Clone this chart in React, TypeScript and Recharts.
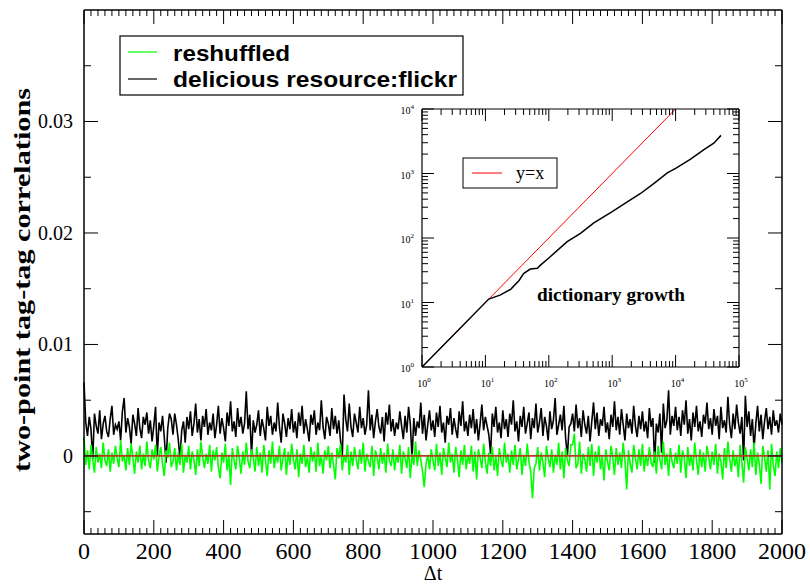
import React from 'react';
import { LineChart, Line, XAxis, YAxis, ReferenceLine } from 'recharts';

// main panel: two-point correlations, one sample every STEP in Δt, values in units of 1e-4
const STEP = 5;

const deliciousFlickr = [
  66, 30, 18, 35, 24, -3, 38, 27, 20, 41, 15, 29, 36, 22, 17, 33, 45, 19, 28, 24,
  31, 14, 40, 52, 21, 34, 26, 11, 37, 29, 18, 43, 25, 16, 35, 28, 39, 20, 32, 13,
  27, 44, 0, 30, 22, 36, 17, -6, 25, 38, 33, 19, 38, 28, 15, -2, 23, 31, 12, 35,
  24, 40, 18, 29, 47, 21, 33, 14, 36, 26, 42, 19, 30, 23, 38, 16, 28, 45, 20, 34,
  25, 13, 39, 27, 49, 22, 31, 17, 43, 26, 35, 20, 29, 58, 24, 37, 1, 32, 21, 28,
  41, 18, 33, 25, 14, 44, 27, 36, 19, 30, 22, 48, 26, 12, 38, 29, 17, 34, 24, 42,
  21, 31, 16, 39, 27, 45, 20, 33, 24, 13, 37, 28, 41, 19, 30, 23, 50, 26, 15, 35,
  29, 18, 43, 24, 36, 20, 32, 14, -1, 55, 33, 22, 47, 26, 17, 38, 30, 21, 44, 25,
  34, 19, 28, 59, 23, 37, 16, 31, 42, 26, 20, 35, 13, 39, 28, 46, 22, 33, 18, 30,
  24, 40, 27, 15, 36, 21, 44, 29, -2, 34, 18, 31, 25, 48, 20, 37, 14, 28, 41, 23,
  32, 17, 39, 26, 45, 21, 30, 12, 36, 28, 43, 19, 34, 24, 16, 40, 27, 49, 22, 31,
  18, 37, 25, 42, 20, 33, 14, 29, 46, 23, 35, 27, 19, 2, 38, 26, 44, 21, 30, 16,
  41, 24, 33, 17, 38, 28, 50, 22, 31, 13, 36, 26, 44, 20, 29, 39, 15, 34, 25, 47,
  21, 30, 43, 18, 35, 27, 14, 40, 24, 32, 52, 19, 28, 37, 23, 45, 16, 0, 26, 29,
  38, 22, 46, 25, 34, 17, 41, 28, 20, 36, 13, 31, 48, 24, 39, 18, 33, 27, 44, 21,
  30, 15, 37, 26, 49, 23, 35, 19, 42, 28, 14, 38, 25, 33, 20, 45, 27, 17, 36, 24,
  40, 22, 31, 16, 43, 26, 34, -6, 29, 21, 38, 3, 47, 25, 32, 59, 19, 36, 27, 44,
  23, 35, 18, 41, 28, 50, 20, 33, 14, 39, 26, 45, 22, 31, 17, 37, 29, 48, 24, 34,
  19, 42, 27, 36, 15, 44, 25, 32, 21, 53, 28, 16, 38, 24, 46, 30, 20, 35, -4, 54,
  26, 40, 18, 33, 7, 29, 45, 22, 37, 15, 31, 43, 24, 35, 19, 41, 27, 32, 21, 38,
  28,
];

const reshuffled = [
  17, -8, 5, -12, 10, -3, -15, 8, -6, 2, -11, 12, -4, -9, 6, -14, 3, -7, 9, -2,
  -10, 14, -5, 1, -13, 7, -8, 11, -1, -16, 4, -6, 9, -12, 2, -9, 13, -4, -11, 6,
  -3, 10, -14, 0, 8, -7, -18, 5, -2, 12, -10, -5, 7, -13, 3, -8, 11, -15, 1, -6,
  9, -12, 4, -3, -17, 6, -9, 13, -1, -11, 2, -7, 10, -14, 5, -4, 8, -10, -20, 3,
  -6, 11, -13, 1, -26, 7, -4, -12, 9, -2, -16, 4, -8, 12, -5, -11, 6, -1, -14, 8,
  -9, 3, -15, 10, -4, -18, 5, -7, 13, -11, 1, -6, 9, -13, -2, 7, -17, 4, -8, 11,
  -3, -12, 6, -19, 2, -7, 10, -10, -1, -15, 8, -5, 4, -14, 12, -9, 0, -16, 5, -4,
  9, -11, 3, -8, -21, 7, -2, 11, -13, 1, -6, 10, -17, 4, -9, 8, -3, -12, 6, -7,
  12, -14, 2, -5, -10, 9, -18, 5, -1, -12, 7, -7, 3, -15, 11, -4, -9, 6, -13, 1,
  -6, 10, -16, 4, -2, -11, 8, -20, 2, -8, 13, -9, 5, -3, -14, -28, -7, 1, -12, 6,
  -4, -13, 11, -9, 3, -17, 7, -1, -10, 12, -6, 2, -15, 8, -3, -19, 5, -8, 10, -12,
  1, -7, 9, -14, 4, -21, 6, -2, -11, 11, -5, -16, 3, -9, 8, -13, 0, -18, 7, -4,
  -10, 12, -6, 2, -15, 5, -8, 10, -12, -3, 7, -17, 1, -9, 11, -5, -14, -38, -11, -7,
  8, -13, 3, -6, -19, 9, -2, -10, 6, -15, 1, -8, 12, -12, 4, -20, 7, -4, -9, 10,
  10, 20, -11, -7, 13, -16, 2, -3, -14, 8, -9, 11, -18, 4, -6, 9, -12, 0, -22, 6,
  -5, -13, 9, -1, -17, 7, -8, 3, -11, 12, -4, -30, 5, -7, -15, 10, -2, -12, 6, -9,
  11, -14, 1, -9, 8, -6, -10, 4, -16, 9, -3, -12, 13, -8, 2, -18, 7, -5, -11, 3,
  -7, 10, -15, 5, -2, -20, 8, -9, 1, -13, 12, -4, -17, 6, -10, 3, -14, 9, -1, -12,
  4, -8, 11, -16, 2, -5, -21, 7, -11, 13, -3, -14, 5, -9, 0, -19, 10, -6, -24, 8,
  -2, -13, 6, -10, 12, -17, 3, -7, -25, 9, -1, -14, 5, -30, 11, -8, -18, 4, -11, 7,
  -6,
];

const xTicks = Array.from({ length: 101 }, (_, i) => i * 20);
const yTicks = [-0.005, 0, 0.005, 0.01, 0.015, 0.02, 0.025, 0.03, 0.035];

// inset: dictionary growth (log-log)
const growthN = [1, 11.3, 17, 25, 34, 40, 51, 66, 74, 100, 195, 316, 513, 1000, 1730, 2800, 4570, 7400, 10000, 17000, 28000, 40000, 52000];
const growthD = [1, 11.3, 13, 16, 22, 28, 33, 34, 38, 49, 88, 118, 172, 257, 364, 490, 705, 1020, 1200, 1660, 2350, 2950, 3900];
const identityN = [1, 10000];

const logTicks = (maxExp: number) => {
  const t: number[] = [];
  for (let e = 0; e < maxExp; e++) for (let k = 1; k < 10; k++) t.push(k * 10 ** e);
  t.push(10 ** maxExp);
  return t;
};
const insetXTicks = logTicks(5);
const insetYTicks = logTicks(4);

const mainData = deliciousFlickr.map((v, i) => ({
  t: i * STEP,
  black: v / 1e4,
  green: reshuffled[i] / 1e4,
}));
const growthData = growthN.map((n, i) => ({ n, d: growthD[i] }));
const identityData = identityN.map((n) => ({ n, d: n }));

const SERIF = '"Liberation Serif", "Times New Roman", serif';
const SANS = '"Liberation Sans", Arial, sans-serif';

const isMajorY = (v: number) => Math.abs(Math.round(v * 100) - v * 100) < 1e-6;
const isDecade = (v: number) => Math.abs(Math.log10(v) - Math.round(Math.log10(v))) < 1e-9;

// main panel ticks, drawn inward
const BottomTick = (props: any) => {
  const { x, y, payload } = props;
  const major = payload.value % 200 === 0;
  return (
    <g>
      <line x1={x} y1={y} x2={x} y2={y - (major ? 14 : 6)} stroke="#000" />
      {major && (
        <text x={x} y={y + 25} textAnchor="middle" fontSize={24} fontFamily={SERIF} fill="#000">
          {payload.value}
        </text>
      )}
    </g>
  );
};
const TopTick = (props: any) => {
  const { x, y, payload } = props;
  const major = payload.value % 200 === 0;
  return <line x1={x} y1={y} x2={x} y2={y + (major ? 14 : 6)} stroke="#000" />;
};
const LeftTick = (props: any) => {
  const { x, y, payload } = props;
  const v = payload.value;
  const major = isMajorY(v);
  return (
    <g>
      <line x1={x} y1={y} x2={x + (major ? 14 : 7)} y2={y} stroke="#000" />
      {major && (
        <text x={x - 11} y={y + 7} textAnchor="end" fontSize={20} fontFamily={SERIF} fill="#000">
          {v === 0 ? '0' : v.toFixed(2)}
        </text>
      )}
    </g>
  );
};
const RightTick = (props: any) => {
  const { x, y, payload } = props;
  const major = isMajorY(payload.value);
  return <line x1={x} y1={y} x2={x - (major ? 14 : 7)} y2={y} stroke="#000" />;
};

// inset ticks
const Pow10 = ({ x, y, v, anchor }: { x: number; y: number; v: number; anchor: string }) => (
  <text x={x} y={y} textAnchor={anchor} fontSize={10} fontFamily={SERIF} fill="#000">
    <tspan>10</tspan>
    <tspan dy={-5} fontSize={7}>{Math.round(Math.log10(v))}</tspan>
  </text>
);
const InsetBottomTick = (props: any) => {
  const { x, y, payload } = props;
  const major = isDecade(payload.value);
  return (
    <g>
      <line x1={x} y1={y} x2={x} y2={y - (major ? 12 : 6)} stroke="#000" />
      {major && <Pow10 x={x + 2} y={y + 20} v={payload.value} anchor="middle" />}
    </g>
  );
};
const InsetTopTick = (props: any) => {
  const { x, y, payload } = props;
  const major = isDecade(payload.value);
  return <line x1={x} y1={y} x2={x} y2={y + (major ? 12 : 6)} stroke="#000" />;
};
const InsetLeftTick = (props: any) => {
  const { x, y, payload } = props;
  const major = isDecade(payload.value);
  return (
    <g>
      <line x1={x} y1={y} x2={x + (major ? 12 : 6)} y2={y} stroke="#000" />
      {major && <Pow10 x={x - 8} y={y + 5} v={payload.value} anchor="end" />}
    </g>
  );
};
const InsetRightTick = (props: any) => {
  const { x, y, payload } = props;
  const major = isDecade(payload.value);
  return <line x1={x} y1={y} x2={x - (major ? 12 : 6)} y2={y} stroke="#000" />;
};

const frame = { stroke: '#000', strokeWidth: 1.5 };
const insetFrame = { stroke: '#000', strokeWidth: 1.2 };

export default function App() {
  return (
    <div style={{ position: 'absolute', left: 0, top: 0, width: 810, height: 585, background: '#fff' }}>
      <LineChart width={810} height={585} data={mainData} margin={{ top: 9, right: 27, bottom: 21, left: 24 }}>
        <XAxis
          dataKey="t"
          type="number"
          domain={[0, 2000]}
          ticks={xTicks}
          interval={0}
          tickSize={0}
          tickMargin={0}
          tickLine={false}
          height={30}
          axisLine={frame}
          tick={<BottomTick />}
        />
        <XAxis
          xAxisId="top"
          dataKey="t"
          orientation="top"
          type="number"
          domain={[0, 2000]}
          ticks={xTicks}
          interval={0}
          tickSize={0}
          tickMargin={0}
          tickLine={false}
          height={1}
          axisLine={frame}
          tick={<TopTick />}
        />
        <YAxis
          type="number"
          domain={[-0.007, 0.04]}
          ticks={yTicks}
          interval={0}
          tickSize={0}
          tickMargin={0}
          tickLine={false}
          width={60}
          axisLine={frame}
          allowDataOverflow
          tick={<LeftTick />}
        />
        <YAxis
          yAxisId="right"
          orientation="right"
          type="number"
          domain={[-0.007, 0.04]}
          ticks={yTicks}
          interval={0}
          tickSize={0}
          tickMargin={0}
          tickLine={false}
          width={1}
          axisLine={frame}
          allowDataOverflow
          tick={<RightTick />}
        />
        {/* black series is bound to the mirrored top/right axes (same domains) so they get drawn */}
        <Line xAxisId="top" yAxisId="right" dataKey="black" stroke="#000000" strokeWidth={1.6} dot={false} isAnimationActive={false} />
        <Line dataKey="green" stroke="#00ff00" strokeWidth={1.6} dot={false} isAnimationActive={false} />
        <ReferenceLine y={0} stroke="#b0401c" strokeWidth={1.8} />
      </LineChart>

      <svg width={810} height={585} style={{ position: 'absolute', left: 0, top: 0, pointerEvents: 'none' }}>
        <text
          x={0}
          y={0}
          transform="translate(30 280) rotate(-90)"
          textAnchor="middle"
          fontSize={24}
          fontWeight="bold"
          fontFamily={SERIF}
          textLength={384}
          lengthAdjust="spacingAndGlyphs"
        >
          two-point tag-tag correlations
        </text>
        <text x={433} y={580} textAnchor="middle" fontSize={20} fontFamily={SERIF}>
          Δt
        </text>
        {/* main legend */}
        <rect x={120} y={36} width={343} height={59} fill="#fff" stroke="#000" strokeWidth={1.2} />
        <line x1={128} y1={52} x2={157} y2={52} stroke="#00ff00" strokeWidth={1.2} />
        <line x1={128} y1={79} x2={157} y2={79} stroke="#000" strokeWidth={1.2} />
        <text x={173} y={61} fontSize={22} fontWeight="bold" fontFamily={SANS} textLength={117} lengthAdjust="spacingAndGlyphs">
          reshuffled
        </text>
        <text x={173} y={87} fontSize={22} fontWeight="bold" fontFamily={SANS} textLength={284} lengthAdjust="spacingAndGlyphs">
          delicious resource:flickr
        </text>
      </svg>

      <div style={{ position: 'absolute', left: 397, top: 103 }}>
        <LineChart width={356} height={294} margin={{ top: 5, right: 13, bottom: 5, left: 0 }}>
          <XAxis
            dataKey="n"
            type="number"
            scale="log"
            domain={[1, 100000]}
            ticks={insetXTicks}
            interval={0}
            tickSize={0}
            tickMargin={0}
            tickLine={false}
            height={25}
            axisLine={insetFrame}
            allowDataOverflow
            tick={<InsetBottomTick />}
          />
          <XAxis
            xAxisId="top"
            dataKey="n"
            orientation="top"
            type="number"
            scale="log"
            domain={[1, 100000]}
            ticks={insetXTicks}
            interval={0}
            tickSize={0}
            tickMargin={0}
            tickLine={false}
            height={1}
            axisLine={insetFrame}
            allowDataOverflow
            tick={<InsetTopTick />}
          />
          <YAxis
            type="number"
            scale="log"
            domain={[1, 10000]}
            ticks={insetYTicks}
            interval={0}
            tickSize={0}
            tickMargin={0}
            tickLine={false}
            width={25}
            axisLine={insetFrame}
            allowDataOverflow
            tick={<InsetLeftTick />}
          />
          <YAxis
            yAxisId="right"
            orientation="right"
            type="number"
            scale="log"
            domain={[1, 10000]}
            ticks={insetYTicks}
            interval={0}
            tickSize={0}
            tickMargin={0}
            tickLine={false}
            width={1}
            axisLine={insetFrame}
            allowDataOverflow
            tick={<InsetRightTick />}
          />
          <Line data={identityData} dataKey="d" stroke="#ff0000" strokeWidth={1} dot={false} isAnimationActive={false} />
          <Line xAxisId="top" yAxisId="right" data={growthData} dataKey="d" stroke="#000" strokeWidth={1.5} dot={false} isAnimationActive={false} />
        </LineChart>
      </div>

      <svg width={810} height={585} style={{ position: 'absolute', left: 0, top: 0, pointerEvents: 'none' }}>
        <rect x={463} y={158} width={94} height={30} fill="#fff" stroke="#000" strokeWidth={1} />
        <line x1={472} y1={173} x2={502} y2={173} stroke="#ff0000" strokeWidth={1} />
        <text x={516} y={179} fontSize={18} fontFamily={SERIF}>
          y=x
        </text>
        <text x={611} y={301} textAnchor="middle" fontSize={18} fontWeight="bold" fontFamily={SERIF} textLength={148} lengthAdjust="spacingAndGlyphs">
          dictionary growth
        </text>
      </svg>
    </div>
  );
}
